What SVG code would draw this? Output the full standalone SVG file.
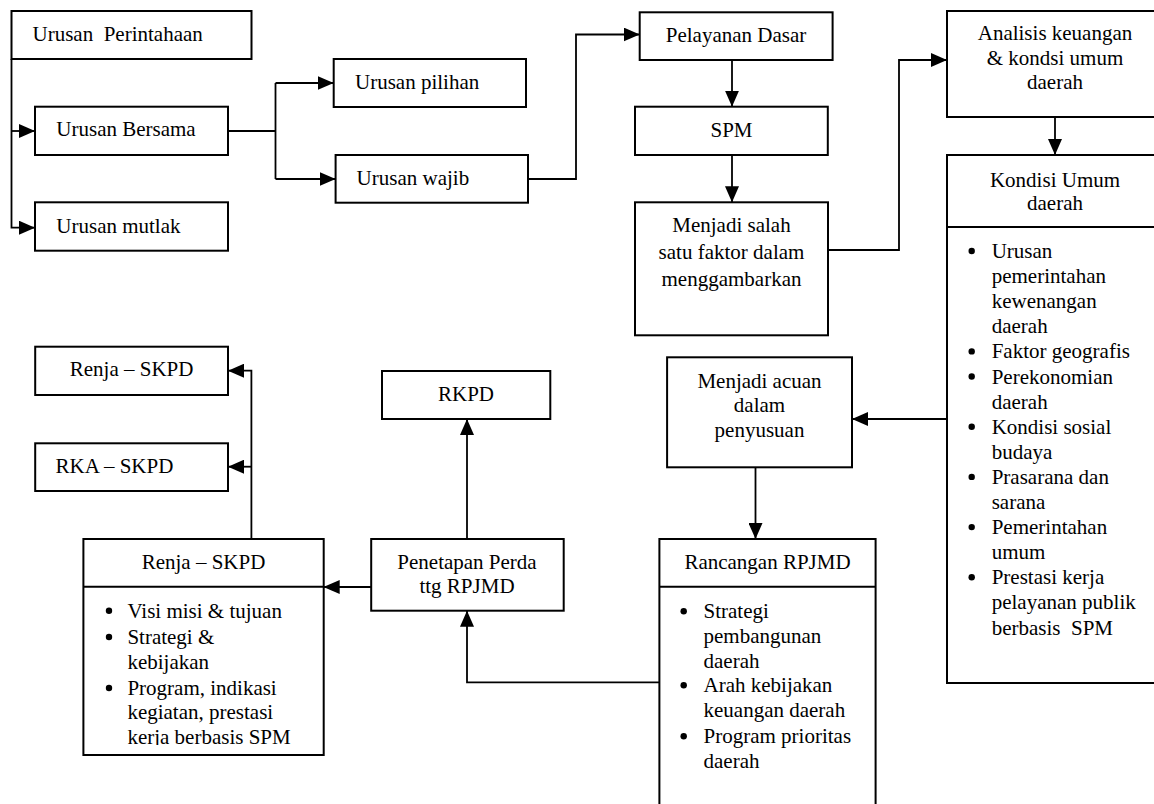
<svg xmlns="http://www.w3.org/2000/svg" width="1154" height="804" viewBox="0 0 1154 804">
<style>
  .box { fill: #ffffff; stroke: #000000; stroke-width: 2; }
  .open { fill: none; stroke: #000000; stroke-width: 2; }
  .div { stroke: #000000; stroke-width: 2; }
  .t { font-family: "Liberation Serif", "Times New Roman", serif; font-size: 21px; fill: #000000; white-space: pre; }
  .c { text-anchor: middle; }
  .con { fill: none; stroke: #000000; stroke-width: 1.8; }
  .dot { fill: #000000; }
</style>
<defs>
  <marker id="arr" markerUnits="userSpaceOnUse" markerWidth="16" markerHeight="14" refX="16" refY="7" orient="auto">
    <path d="M0,0 L16,7 L0,14 z" fill="#000000"/>
  </marker>
  <clipPath id="renjaClip">
    <rect x="84" y="588" width="239" height="157"/>
  </clipPath>
</defs>
<rect x="0" y="0" width="1154" height="804" fill="#ffffff"/>

<g id="connectors">
  <path class="con" d="M11.5,59 V227.7 H35" marker-end="url(#arr)"/>
  <path class="con" d="M11.5,131 H35" marker-end="url(#arr)"/>
  <path class="con" d="M228,131 H275.5"/>
  <path class="con" d="M275.5,83 V179"/>
  <path class="con" d="M275.5,83 H333.7" marker-end="url(#arr)"/>
  <path class="con" d="M275.5,179 H335.6" marker-end="url(#arr)"/>
  <path class="con" d="M528,179 H576 V34.5 H639.7" marker-end="url(#arr)"/>
  <path class="con" d="M732,60 V106.7" marker-end="url(#arr)"/>
  <path class="con" d="M732,155 V202.3" marker-end="url(#arr)"/>
  <path class="con" d="M828,250 H899 V60 H947" marker-end="url(#arr)"/>
  <path class="con" d="M1055,117 V155" marker-end="url(#arr)"/>
  <path class="con" d="M947,419 H852" marker-end="url(#arr)"/>
  <path class="con" d="M755.5,467.3 V539" marker-end="url(#arr)"/>
  <path class="con" d="M659.4,682.3 H467 V610.7" marker-end="url(#arr)"/>
  <path class="con" d="M467,539 V419" marker-end="url(#arr)"/>
  <path class="con" d="M371.2,587 H323.7" marker-end="url(#arr)"/>
  <path class="con" d="M251.4,539 V370.7 H228" marker-end="url(#arr)"/>
  <path class="con" d="M251.4,466.7 H228" marker-end="url(#arr)"/>
</g>

<g id="urusan-perintahaan">
  <rect class="box" x="11.5" y="11" width="240" height="48"/>
  <text class="t" x="32.5" y="41">Urusan  Perintahaan</text>
</g>
<g id="urusan-bersama">
  <rect class="box" x="35" y="106.7" width="193" height="48.3"/>
  <text class="t" x="56.3" y="136">Urusan Bersama</text>
</g>
<g id="urusan-mutlak">
  <rect class="box" x="35" y="202.3" width="193" height="48.4"/>
  <text class="t" x="56.3" y="233">Urusan mutlak</text>
</g>
<g id="urusan-pilihan">
  <rect class="box" x="333.7" y="59" width="192.3" height="48"/>
  <text class="t" x="355" y="88.5">Urusan pilihan</text>
</g>
<g id="urusan-wajib">
  <rect class="box" x="335.6" y="155" width="192.4" height="47.7"/>
  <text class="t" x="356.6" y="184.5">Urusan wajib</text>
</g>
<g id="pelayanan-dasar">
  <rect class="box" x="639.7" y="12.3" width="192.9" height="47.7"/>
  <text class="t c" x="736" y="41.7">Pelayanan Dasar</text>
</g>
<g id="spm">
  <rect class="box" x="635" y="106.7" width="192.8" height="48.3"/>
  <text class="t c" x="731.5" y="136.7">SPM</text>
</g>
<g id="menjadi-salah">
  <rect class="box" x="635" y="202.3" width="193" height="133"/>
  <text class="t c" x="731.5" y="232">Menjadi salah</text>
  <text class="t c" x="731.5" y="259">satu faktor dalam</text>
  <text class="t c" x="731.5" y="286">menggambarkan</text>
</g>
<g id="analisis">
  <path class="open" d="M1160,11 H947 V117 H1160"/>
  <text class="t c" x="1055" y="40">Analisis keuangan</text>
  <text class="t c" x="1055" y="64.5">&amp; kondsi umum</text>
  <text class="t c" x="1055" y="89">daerah</text>
</g>
<g id="kondisi-umum">
  <path class="open" d="M1160,155 H947 V683 H1160"/>
  <line class="div" x1="947" y1="227" x2="1160" y2="227"/>
  <text class="t c" x="1055" y="187">Kondisi Umum</text>
  <text class="t c" x="1055" y="210">daerah</text>
  <circle class="dot" cx="971.7" cy="251" r="3.2"/>
  <text class="t" x="991.7" y="258">Urusan</text>
  <text class="t" x="991.7" y="283.1">pemerintahan</text>
  <text class="t" x="991.7" y="308.2">kewenangan</text>
  <text class="t" x="991.7" y="333.3">daerah</text>
  <circle class="dot" cx="971.7" cy="351.4" r="3.2"/>
  <text class="t" x="991.7" y="358.4">Faktor geografis</text>
  <circle class="dot" cx="971.7" cy="376.5" r="3.2"/>
  <text class="t" x="991.7" y="383.5">Perekonomian</text>
  <text class="t" x="991.7" y="408.6">daerah</text>
  <circle class="dot" cx="971.7" cy="426.7" r="3.2"/>
  <text class="t" x="991.7" y="433.7">Kondisi sosial</text>
  <text class="t" x="991.7" y="458.8">budaya</text>
  <circle class="dot" cx="971.7" cy="476.9" r="3.2"/>
  <text class="t" x="991.7" y="483.9">Prasarana dan</text>
  <text class="t" x="991.7" y="509">sarana</text>
  <circle class="dot" cx="971.7" cy="527.1" r="3.2"/>
  <text class="t" x="991.7" y="534.1">Pemerintahan</text>
  <text class="t" x="991.7" y="559.2">umum</text>
  <circle class="dot" cx="971.7" cy="577.3" r="3.2"/>
  <text class="t" x="991.7" y="584.3">Prestasi kerja</text>
  <text class="t" x="991.7" y="609.4">pelayanan publik</text>
  <text class="t" x="991.7" y="634.5">berbasis  SPM</text>
</g>
<g id="menjadi-acuan">
  <rect class="box" x="667.1" y="357.3" width="184.9" height="110"/>
  <text class="t c" x="759.5" y="388.3">Menjadi acuan</text>
  <text class="t c" x="759.5" y="412">dalam</text>
  <text class="t c" x="759.5" y="436.7">penyusuan</text>
</g>
<g id="rancangan-rpjmd">
  <path class="box" d="M659.4,810 V539 H875.6 V810"/>
  <line class="div" x1="659.4" y1="586.7" x2="875.6" y2="586.7"/>
  <text class="t c" x="767.5" y="569.3">Rancangan RPJMD</text>
  <circle class="dot" cx="683.7" cy="611.3" r="3.2"/>
  <text class="t" x="703.5" y="618.3">Strategi</text>
  <text class="t" x="703.5" y="643.3">pembangunan</text>
  <text class="t" x="703.5" y="667.5">daerah</text>
  <circle class="dot" cx="683.7" cy="685.3" r="3.2"/>
  <text class="t" x="703.5" y="692.3">Arah kebijakan</text>
  <text class="t" x="703.5" y="717.3">keuangan daerah</text>
  <circle class="dot" cx="683.7" cy="736.3" r="3.2"/>
  <text class="t" x="703.5" y="743.3">Program prioritas</text>
  <text class="t" x="703.5" y="768.3">daerah</text>
</g>
<g id="penetapan-perda">
  <rect class="box" x="371.2" y="539" width="192.5" height="71.7"/>
  <text class="t c" x="467" y="569.3">Penetapan Perda</text>
  <text class="t c" x="467" y="592.7">ttg RPJMD</text>
</g>
<g id="rkpd">
  <rect class="box" x="382" y="371" width="168.3" height="48"/>
  <text class="t c" x="466" y="401">RKPD</text>
</g>
<g id="renja-skpd-top">
  <rect class="box" x="35.2" y="346.7" width="192.8" height="48.3"/>
  <text class="t c" x="131.6" y="376">Renja – SKPD</text>
</g>
<g id="rka-skpd">
  <rect class="box" x="35.2" y="443.3" width="192.8" height="47.7"/>
  <text class="t" x="55.5" y="472.7">RKA – SKPD</text>
</g>
<g id="renja-skpd-main">
  <rect class="box" x="83.4" y="539" width="240.3" height="216"/>
  <line class="div" x1="83.4" y1="586.7" x2="323.7" y2="586.7"/>
  <text class="t c" x="203.5" y="569.3">Renja – SKPD</text>
  <g clip-path="url(#renjaClip)">
    <circle class="dot" cx="109" cy="610.7" r="3.2"/>
    <text class="t" x="127.4" y="617.7">Visi misi &amp; tujuan</text>
    <circle class="dot" cx="109" cy="637" r="3.2"/>
    <text class="t" x="127.4" y="644">Strategi &amp;</text>
    <text class="t" x="127.4" y="668.5">kebijakan</text>
    <circle class="dot" cx="109" cy="688" r="3.2"/>
    <text class="t" x="127.4" y="695">Program, indikasi</text>
    <text class="t" x="127.4" y="719.3">kegiatan, prestasi</text>
    <text class="t" x="127.4" y="743.5">kerja berbasis SPM</text>
  </g>
</g>
</svg>
